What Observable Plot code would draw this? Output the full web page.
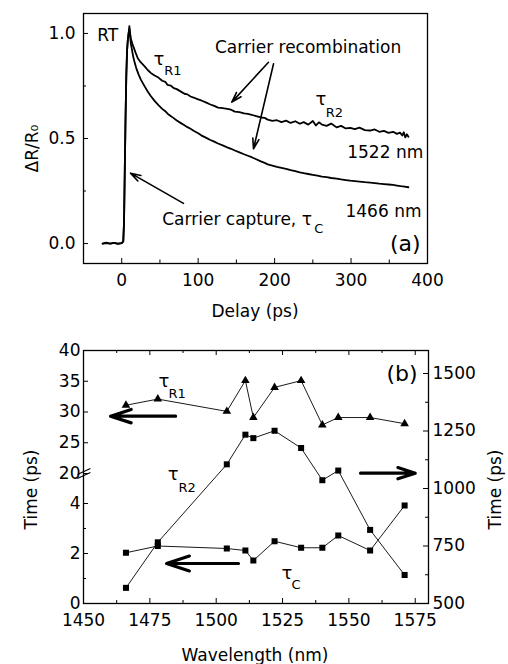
<!DOCTYPE html>
<html><head><meta charset="utf-8">
<script src="https://cdn.jsdelivr.net/npm/d3@7"></script>
<script src="https://cdn.jsdelivr.net/npm/@observablehq/plot@0.6"></script>
<style>
html,body{margin:0;padding:0;background:#fff;}
#wrap{position:relative;width:508px;height:664px;background:#fff;overflow:hidden;}
#wrap svg{position:absolute;left:0;}
</style></head><body><div id="wrap"></div>
<script>
// ---------- data: panel (a) reflectivity transients, [delay (ps), ΔR/R0] ----------
const trace1522 = [[-25,0],[-20,0.004],[-15,0],[-10,0.003],[-5,-0.002],[0,0.002],[2,0.01],[3,0.1],[4,0.35],[5,0.6],[6,0.8],[7,0.92],[8,0.97],[9,1.0],[10,1.035],[11,1.0],[12,0.975],[14,0.95],[16,0.93],[18,0.91],[21,0.882],[25,0.862],[30,0.843],[34,0.826],[38,0.812],[43,0.8],[48,0.79],[53,0.775],[57,0.77],[60,0.755],[64,0.752],[68,0.74],[72,0.735],[78,0.722],[82,0.713],[86,0.71],[90,0.7],[94,0.695],[100,0.686],[104,0.681],[110,0.672],[116,0.662],[121,0.655],[126,0.647],[132,0.645],[138,0.641],[143,0.637],[148,0.628],[154,0.626],[160,0.62],[165,0.617],[170,0.613],[176,0.606],[182,0.6],[187,0.598],[191,0.59],[197,0.584],[203,0.587],[209,0.578],[215,0.585],[221,0.574],[227,0.582],[233,0.57],[238,0.578],[244,0.566],[250,0.583],[254,0.562],[258,0.577],[262,0.566],[268,0.56],[274,0.571],[281,0.553],[287,0.56],[293,0.548],[299,0.551],[305,0.545],[311,0.552],[318,0.54],[325,0.538],[331,0.543],[337,0.532],[343,0.536],[349,0.527],[355,0.532],[360,0.522],[364,0.528],[367,0.514],[369,0.53],[371,0.505],[373,0.52],[375,0.508]];
const trace1466 = [[-25,0],[-20,0.002],[-15,0],[-10,0.003],[-5,0],[0,0.002],[2,0.01],[3,0.1],[4,0.35],[5,0.6],[6,0.8],[7,0.92],[8,0.97],[9,1.0],[10,1.02],[11,0.985],[12,0.95],[13,0.93],[15,0.89],[17,0.86],[19,0.835],[22,0.805],[25,0.78],[30,0.748],[34,0.724],[38,0.702],[43,0.679],[48,0.659],[53,0.641],[57,0.63],[60,0.618],[64,0.607],[68,0.597],[72,0.586],[78,0.572],[82,0.563],[86,0.554],[90,0.546],[94,0.537],[100,0.525],[104,0.515],[110,0.504],[116,0.493],[121,0.485],[126,0.476],[132,0.467],[138,0.458],[143,0.451],[148,0.443],[154,0.434],[160,0.425],[165,0.418],[170,0.411],[176,0.401],[182,0.391],[187,0.384],[191,0.377],[197,0.371],[203,0.365],[209,0.36],[215,0.355],[221,0.349],[227,0.345],[233,0.339],[238,0.335],[244,0.331],[250,0.327],[256,0.323],[262,0.319],[268,0.316],[274,0.312],[281,0.309],[287,0.305],[293,0.302],[299,0.299],[305,0.297],[311,0.295],[318,0.292],[325,0.29],[331,0.288],[337,0.285],[343,0.283],[349,0.281],[355,0.279],[360,0.276],[365,0.273],[370,0.271],[375,0.268]];

// ---------- data: panel (b) time constants vs wavelength ----------
const wavelength = [1466, 1478, 1504, 1511, 1514, 1522, 1532, 1540, 1546, 1558, 1571];
const tauR1 = [31.1, 32.1, 30.1, 35.1, 29.1, 34.0, 35.1, 27.9, 29.1, 29.1, 28.1];   // ps, left axis (upper part)
const tauC  = [2.03, 2.3, 2.2, 2.12, 1.72, 2.49, 2.23, 2.23, 2.72, 2.12, 3.92];     // ps, left axis (lower part)
const tauR2 = [568, 766, 1105, 1234, 1219, 1251, 1176, 1036, 1078, 820, 624];       // ps, right axis

// ---------- tick values ----------
const delayTicks = [0, 100, 200, 300, 400];
const delayMinor = [50, 150, 250, 350];
const drTicks = [0, 0.5, 1.0];
const drMinor = [0.25, 0.75];
const wlTicks = [1450, 1475, 1500, 1525, 1550, 1575];
const wlMinor = [1462.5, 1487.5, 1512.5, 1537.5, 1562.5];
const leftTicks = [0, 2, 4, 20, 25, 30, 35, 40];
const leftMinor = [1, 3];
const rightTicks = [500, 750, 1000, 1250, 1500];
const rightMinor = [625, 875, 1125, 1375];

const FONT = "'DejaVu Sans', Verdana, sans-serif";
const K = "#000";
const baseStyle = {fontFamily: FONT, fontSize: "17px", color: K, background: "transparent", overflow: "visible"};

function note(str, x, y, o = {}) {
  return Plot.text([str], {x, y, text: d => d, textAnchor: "start", lineAnchor: "middle", fill: K, fontSize: 17, ...o});
}
function arrow(x1, y1, x2, y2, o = {}) {
  return Plot.arrow([0], {x1, y1, x2, y2, stroke: K, strokeWidth: 1.6, headLength: 10, headAngle: 34, ...o});
}
const thick = {strokeWidth: 3.2, headLength: 12, headAngle: 36};

const rows1522 = trace1522.map(([t, v]) => ({t, v}));
const rows1466 = trace1466.map(([t, v]) => ({t, v}));

// ---------- panel (a) ----------
const plotA = Plot.plot({
  width: 508, height: 330,
  marginTop: 13, marginRight: 81, marginBottom: 67, marginLeft: 83,
  style: baseStyle,
  x: {domain: [-50, 400]},
  y: {domain: [-0.095, 1.095]},
  marks: [
    Plot.ruleX(delayMinor, {x: d => d, insetTop: 246.5, stroke: K}),
    Plot.ruleX(delayTicks, {x: d => d, insetTop: 245, stroke: K}),
    Plot.ruleY(drMinor, {y: d => d, insetRight: 341, stroke: K}),
    Plot.ruleY(drTicks, {y: d => d, insetRight: 339, stroke: K}),
    Plot.axisX({ticks: delayTicks, tickSize: 0, tickPadding: 10, tickFormat: d => String(d), label: null}),
    Plot.axisY({ticks: drTicks, tickSize: 0, tickPadding: 8, tickFormat: d3.format(".1f"), label: null}),
    Plot.line(rows1466, {x: "t", y: "v", stroke: K, strokeWidth: 1.8, strokeLinejoin: "round"}),
    Plot.line(rows1522, {x: "t", y: "v", stroke: K, strokeWidth: 1.8, strokeLinejoin: "round"}),
    // annotations
    note("RT", -32, 0.99),
    note("τ", 41.6, 0.875, {fontSize: 18}),
    note("R1", 55.5, 0.82, {fontSize: 13}),
    note("Carrier recombination", 122, 0.935),
    arrow(192, 0.863, 144, 0.673),
    arrow(198.6, 0.856, 172.4, 0.451),
    note("τ", 253.5, 0.685, {fontSize: 18}),
    note("R2", 267, 0.621, {fontSize: 13}),
    note("1522 nm", 295, 0.435),
    note("Carrier capture, τ", 53, 0.112),
    note("C", 252, 0.068, {fontSize: 13}),
    arrow(80.8, 0.191, 11.5, 0.335),
    note("1466 nm", 292.7, 0.151),
    note("(a)", 391, 0.0, {textAnchor: "end", fontSize: 22}),
    // axis titles
    note("Delay (ps)", 174.4, -0.326, {textAnchor: "middle"}),
    note("ΔR/R₀", -117.2, 0.452, {textAnchor: "middle", rotate: -90}),
    Plot.frame({stroke: K, strokeWidth: 1.3})
  ]
});

// ---------- panel (b): left (broken) axis ----------
const rowsB = wavelength.map((w, i) => ({w, r1: tauR1[i], c: tauC[i], r2: tauR2[i]}));

const plotB = Plot.plot({
  width: 508, height: 334,
  marginTop: 20, marginRight: 80, marginBottom: 61, marginLeft: 83,
  style: baseStyle,
  x: {domain: [1450, 1580]},
  y: {type: "linear", domain: [0, 5.2, 20, 40], range: [273, 143, 143, 20]},
  marks: [
    Plot.ruleX(wlMinor, {x: d => d, insetTop: 250, stroke: K}),
    Plot.ruleX(wlTicks, {x: d => d, insetTop: 248, stroke: K}),
    Plot.ruleX(wlMinor, {x: d => d, insetBottom: 250, stroke: K}),
    Plot.ruleX(wlTicks, {x: d => d, insetBottom: 248, stroke: K}),
    Plot.ruleY(leftMinor, {y: d => d, insetRight: 342, stroke: K}),
    Plot.ruleY(leftTicks, {y: d => d, insetRight: 340, stroke: K}),
    Plot.axisX({ticks: wlTicks, tickSize: 0, tickPadding: 10, tickFormat: d => String(d), label: null}),
    Plot.axisY({ticks: leftTicks, tickSize: 0, tickPadding: 3, tickFormat: d => String(d), label: null}),
    // axis break marks
    Plot.link([0], {x1: 1447.7, y1: 5.16, x2: 1452.6, y2: 20.81, stroke: K, strokeWidth: 1.2}),
    Plot.link([0], {x1: 1447.7, y1: 5.0, x2: 1452.6, y2: 20.16, stroke: K, strokeWidth: 1.2}),
    // series
    Plot.line(rowsB, {x: "w", y: "r1", stroke: K, strokeWidth: 0.9}),
    Plot.dot(rowsB, {x: "w", y: "r1", symbol: "triangle", r: 3.2, fill: K, stroke: "none"}),
    Plot.line(rowsB, {x: "w", y: "c", stroke: K, strokeWidth: 0.9}),
    Plot.dot(rowsB, {x: "w", y: "c", symbol: "square", r: 3.4, fill: K, stroke: "none"}),
    // annotations
    note("τ", 1478.3, 34.93, {fontSize: 18}),
    note("R1", 1482, 32.88, {fontSize: 13}),
    arrow(1484.7, 29.32, 1460.2, 29.32, thick),
    note("τ", 1524.6, 1.22, {fontSize: 18}),
    note("C", 1528.4, 0.756, {fontSize: 13}),
    arrow(1508.4, 1.6, 1481.3, 1.6, thick),
    note("Time (ps)", 1430.6, 4.56, {textAnchor: "middle", rotate: -90}),
    Plot.frame({stroke: K, strokeWidth: 1.3})
  ]
});

// ---------- panel (b): right axis overlay ----------
const plotC = Plot.plot({
  width: 508, height: 334,
  marginTop: 20, marginRight: 80, marginBottom: 61, marginLeft: 83,
  style: baseStyle,
  x: {domain: [1450, 1580], axis: null},
  y: {domain: [500, 1600]},
  marks: [
    Plot.ruleY(rightMinor, {y: d => d, insetLeft: 342, stroke: K}),
    Plot.ruleY(rightTicks, {y: d => d, insetLeft: 340, stroke: K}),
    Plot.axisY({anchor: "right", ticks: rightTicks, tickSize: 0, tickPadding: 4, tickFormat: d => String(d), label: null}),
    Plot.line(rowsB, {x: "w", y: "r2", stroke: K, strokeWidth: 0.9}),
    Plot.dot(rowsB, {x: "w", y: "r2", symbol: "square", r: 3.4, fill: K, stroke: "none"}),
    note("τ", 1481.7, 1061, {fontSize: 18}),
    note("R2", 1485.8, 1002, {fontSize: 13}),
    arrow(1554.4, 1066.5, 1575.0, 1066.5, thick),
    note("(b)", 1575.9, 1500, {textAnchor: "end", fontSize: 22}),
    note("Time (ps)", 1605.1, 995.7, {textAnchor: "middle", rotate: -90}),
    note("Wavelength (nm)", 1514.6, 275.7, {textAnchor: "middle"})
  ]
});

const wrap = document.getElementById("wrap");
plotA.style.top = "0px";
plotB.style.top = "330px";
plotC.style.top = "330px";
wrap.appendChild(plotA);
wrap.appendChild(plotB);
wrap.appendChild(plotC);
</script>
</body></html>
